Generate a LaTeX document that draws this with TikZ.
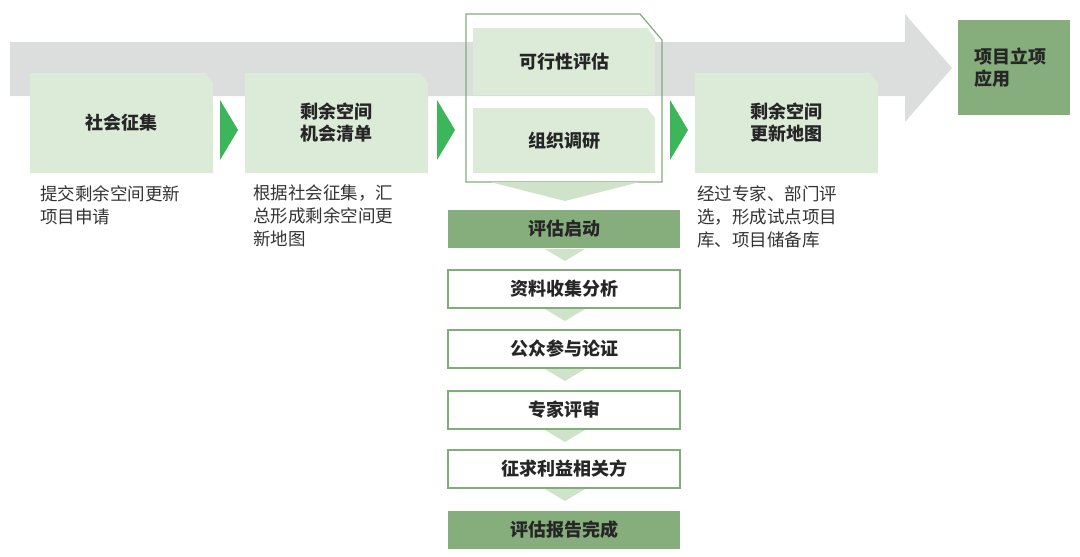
\documentclass[tikz,border=0pt]{standalone}
\usepackage{fontspec}
\newfontfamily\cjk{Noto Sans CJK SC}
\usetikzlibrary{positioning}
\definecolor{bandgray}{HTML}{DCDDDD}
\definecolor{palegreen}{HTML}{DCEBD8}
\definecolor{midgreen}{HTML}{86AD7C}
\definecolor{arrowgreen}{HTML}{3DB55B}
\definecolor{linegreen}{HTML}{7FAE79}
\definecolor{tipgreen}{HTML}{CFE3CA}
\tikzset{
  title/.style={font=\cjk\bfseries\fontsize{18}{22}\selectfont, align=center, text=black!85},
  note/.style={font=\cjk\fontsize{17.5}{23}\selectfont, align=left, anchor=north west, inner sep=0pt, text=black!80},
  stepbox/.style={draw=linegreen, line width=1.2pt, fill=white, minimum width=232pt, minimum height=38pt, title},
  darkbox/.style={fill=midgreen, minimum width=232pt, minimum height=38pt, title}
}
\newcommand{\cutbox}[5]{% x1 y1 x2 y2 name
  \fill[palegreen] (#1,#2) -- (#3-8,#2) -- (#3,#2+10) -- (#3,#4) -- (#1,#4) -- cycle;
  \coordinate (#5) at ({(#1+#3)/2},{(#2+#4)/2});}
\newcommand{\gtri}[2]{\fill[arrowgreen] (#1,100) -- (#1+18,130) -- (#1,160) -- cycle;
  \coordinate (#2) at (#1+9,130);}
\newcommand{\ptri}[2]{\fill[tipgreen] (545,#1) -- (585,#1) -- (565,#1+12) -- cycle;
  \coordinate (#2) at (565,#1);}
\begin{document}
\begin{tikzpicture}[x=1pt,y=-1pt]
\useasboundingbox (0,0) rectangle (1080,557);
% grey band
\fill[bandgray] (10,42) -- (905,42) -- (905,14) -- (952,68) -- (905,122) -- (905,96) -- (10,96) -- cycle;
% top stages
\cutbox{30}{73}{213}{173}{s1}
\cutbox{245}{73}{428}{173}{s2}
\cutbox{695}{73}{878}{173}{s4}
\node[title] (collect) at (s1) {社会征集};
\node[title] (list) at (s2) {剩余空间\\机会清单};
\node[title] (map) at (s4) {剩余空间\\更新地图};
\gtri{220}{g1}
\gtri{437}{g2}
\gtri{670}{g3}
% evaluation frame
\cutbox{473}{28}{655}{95}{e1}
\cutbox{473}{108}{655}{173}{e2}
\draw[linegreen, line width=1.2pt] (466,14) -- (640,14) -- (662,40) -- (662,182) -- (466,182) -- cycle;
\node[title] (feasible) at (e1) {可行性评估};
\node[title] (survey) at (e2) {组织调研};
\fill[tipgreen] (490,182) -- (640,182) -- (565,201) -- cycle;
% final
\fill[midgreen] (958,20) rectangle (1070,115);
\node[title, anchor=north west, align=left, inner sep=0pt] (project) at (974,48) {项目立项\\应用};
% notes
\node[note] (n1) at (40,185) {提交剩余空间更新\\项目申请};
\node[note] (n2) at (253,185) {根据社会征集，汇\\总形成剩余空间更\\新地图};
\node[note] (n4) at (697,185) {经过专家、部门评\\选，形成试点项目\\库、项目储备库};
% vertical steps
\node[darkbox] (start) at (564,229) {评估启动};
\node[stepbox] (data) at (564,289) {资料收集分析};
\node[stepbox] (public) at (564,349) {公众参与论证};
\node[stepbox] (expert) at (564,410) {专家评审};
\node[stepbox] (stake) at (564,469) {征求利益相关方};
\node[darkbox] (report) at (564,530) {评估报告完成};
\ptri{249}{t1}
\ptri{309}{t2}
\ptri{369}{t3}
\ptri{430}{t4}
\ptri{489}{t5}
\end{tikzpicture}
\end{document}
